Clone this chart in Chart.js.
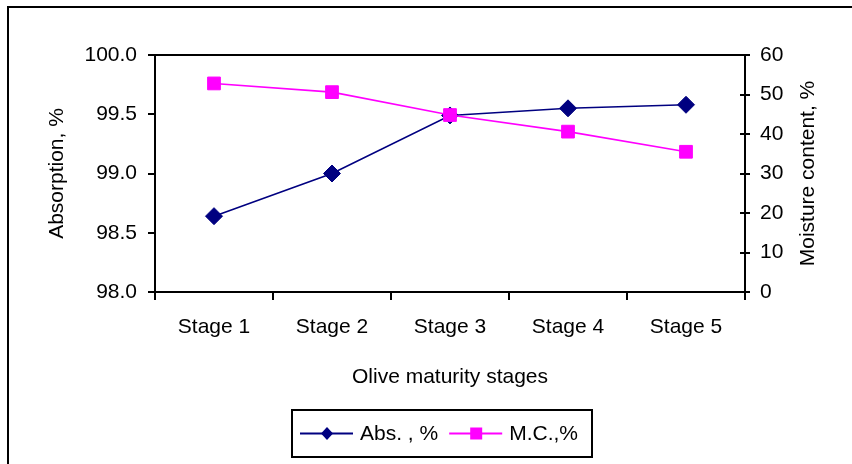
<!DOCTYPE html>
<html>
<head>
<meta charset="utf-8">
<style>
  html, body { margin: 0; padding: 0; background: #fff; }
  #wrap { width: 852px; height: 464px; position: relative; }
</style>
<script src="https://cdn.jsdelivr.net/npm/chart.js@4/dist/chart.umd.min.js"></script>
</head>
<body>
<div id="wrap"><canvas id="c" width="852" height="464"></canvas></div>
<script>
// Olive maturity: light absorption vs. moisture content
const stages = ['Stage 1', 'Stage 2', 'Stage 3', 'Stage 4', 'Stage 5'];
const absorption = [98.64, 99.00, 99.49, 99.55, 99.58];
const moisture = [52.8, 50.6, 44.8, 40.6, 35.5];
const absTicks = [98.0, 98.5, 99.0, 99.5, 100.0];
const mcTicks = [0, 10, 20, 30, 40, 50, 60];
const seriesNames = ['Abs. , %', 'M.C.,%'];

const FONT = "'Liberation Sans', Arial, sans-serif";
const FS = 21;
const NAVY = '#000080';
const MAGENTA = '#FF00FF';

// plot frame, inward ticks on the right axis, page border, right title, boxed legend
const decor = {
  id: 'decor',
  afterDraw(chart) {
    const ctx = chart.ctx;
    const a = chart.chartArea;
    ctx.save();
    ctx.strokeStyle = '#000';
    ctx.lineWidth = 2;
    // top edge of plot frame
    ctx.beginPath();
    ctx.moveTo(a.left, a.top);
    ctx.lineTo(a.right, a.top);
    ctx.stroke();
    // inward half of the right-axis cross ticks
    const yr = chart.scales.yR;
    yr.ticks.forEach(t => {
      const py = Math.round(yr.getPixelForValue(t.value));
      ctx.beginPath();
      ctx.moveTo(a.right - 5, py);
      ctx.lineTo(a.right, py);
      ctx.stroke();
    });
    // page border (left and top)
    ctx.beginPath();
    ctx.moveTo(8, 464);
    ctx.lineTo(8, 7);
    ctx.lineTo(852, 7);
    ctx.stroke();

    // right axis title, reading bottom to top
    ctx.fillStyle = '#000';
    ctx.font = FS + 'px ' + FONT;
    ctx.textAlign = 'center';
    ctx.textBaseline = 'middle';
    ctx.save();
    ctx.translate(808, (a.top + a.bottom) / 2);
    ctx.rotate(-Math.PI / 2);
    ctx.fillText('Moisture content, %', 0, 0);
    ctx.restore();

    // legend
    const bx = 292, by = 410, bw = 300, bh = 47;
    ctx.strokeRect(bx, by, bw, bh);
    const cy = by + bh / 2;
    let x = 300;
    ctx.textAlign = 'left';
    chart.data.datasets.forEach(ds => {
      ctx.strokeStyle = ds.borderColor;
      ctx.fillStyle = ds.borderColor;
      ctx.lineWidth = 2;
      ctx.beginPath();
      ctx.moveTo(x, cy);
      ctx.lineTo(x + 53, cy);
      ctx.stroke();
      const mx = x + 27;
      ctx.beginPath();
      if (ds.pointStyle === 'rectRot') {
        ctx.moveTo(mx, cy - 6.5); ctx.lineTo(mx + 6, cy);
        ctx.lineTo(mx, cy + 6.5); ctx.lineTo(mx - 6, cy);
        ctx.closePath();
      } else {
        ctx.rect(mx - 6, cy - 6, 12, 12);
      }
      ctx.fill();
      ctx.fillStyle = '#000';
      ctx.fillText(ds.label, x + 60, cy + 1);
      x += 60 + ctx.measureText(ds.label).width + 11;
    });
    ctx.restore();
  }
};

new Chart(document.getElementById('c'), {
  type: 'line',
  data: {
    labels: stages,
    datasets: [
      {
        label: seriesNames[0],
        data: absorption,
        yAxisID: 'y',
        order: 1,
        borderColor: NAVY,
        backgroundColor: NAVY,
        borderWidth: 1.6,
        pointStyle: 'rectRot',
        pointRadius: 8.5,
        pointBorderWidth: 1,
        tension: 0
      },
      {
        label: seriesNames[1],
        data: moisture,
        yAxisID: 'yR',
        order: 0,
        borderColor: MAGENTA,
        backgroundColor: MAGENTA,
        borderWidth: 1.6,
        pointStyle: 'rect',
        pointRadius: 9,
        pointBorderWidth: 1,
        tension: 0
      }
    ]
  },
  options: {
    responsive: false,
    devicePixelRatio: 1,
    animation: false,
    layout: { padding: { left: 0, right: 0, top: 55, bottom: 64 } },
    plugins: {
      legend: { display: false },
      tooltip: { enabled: false }
    },
    scales: {
      x: {
        offset: true,
        grid: { display: true, offset: true, drawOnChartArea: false, drawTicks: true, tickLength: 8, color: '#000', lineWidth: 2 },
        border: { display: true, color: '#000', width: 2 },
        ticks: { color: '#000', font: { family: FONT, size: FS }, padding: 15, maxRotation: 0, autoSkip: false },
        title: { display: true, text: 'Olive maturity stages', color: '#000', font: { family: FONT, size: FS }, padding: { top: 0, bottom: 10 } },
        afterFit(s) { s.height = 108; }
      },
      y: {
        position: 'left',
        min: absTicks[0],
        max: absTicks[absTicks.length - 1],
        afterBuildTicks(s) { s.ticks = absTicks.map(v => ({ value: v })); },
        grid: { display: true, drawOnChartArea: false, drawTicks: true, tickLength: 7, color: '#000', lineWidth: 2 },
        border: { display: true, color: '#000', width: 2 },
        ticks: { color: '#000', font: { family: FONT, size: FS }, padding: 11, callback: v => Number(v).toFixed(1) },
        title: { display: true, text: 'Absorption, %', color: '#000', font: { family: FONT, size: FS }, padding: { top: 45, bottom: 0 } },
        afterFit(s) { s.width = 155; }
      },
      yR: {
        position: 'right',
        min: mcTicks[0],
        max: mcTicks[mcTicks.length - 1],
        afterBuildTicks(s) { s.ticks = mcTicks.map(v => ({ value: v })); },
        grid: { display: true, drawOnChartArea: false, drawTicks: true, tickLength: 5, color: '#000', lineWidth: 2 },
        border: { display: true, color: '#000', width: 2 },
        ticks: { color: '#000', font: { family: FONT, size: FS }, padding: 10 },
        afterFit(s) { s.width = 107; }
      }
    }
  },
  plugins: [decor]
});
</script>
</body>
</html>
